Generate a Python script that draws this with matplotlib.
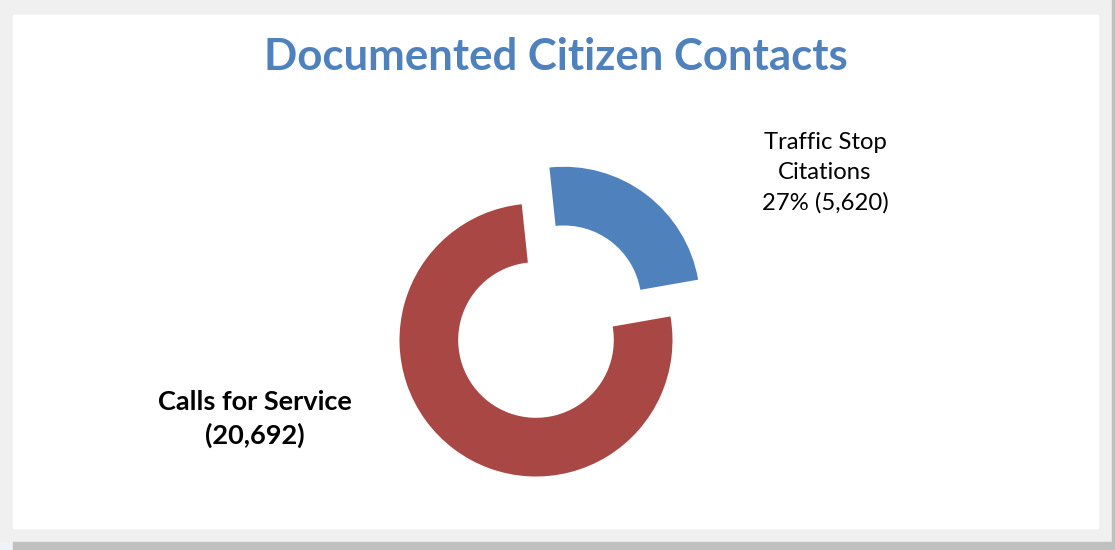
import matplotlib.pyplot as plt
from matplotlib.patches import Rectangle

# data
categories = ['Traffic Stop\nCitations', 'Calls for Service']
counts = [5620, 20692]
# share of the ring each arc covers (percent)
ring_share = [23.9, 76.1]
label_pct = ['27%', None]
colors = ['#4f81bd', '#a94745']

W, H = 1115, 550
fig = plt.figure(figsize=(W / 100, H / 100), dpi=100)
fig.patch.set_facecolor('#f0f0f0')

# panel frame with shadow
fig.patches.append(Rectangle((0, 0), 13 / W, 8 / H, transform=fig.transFigure,
                             color='#eef3f8', zorder=0))
fig.patches.append(Rectangle((13 / W, 0), 1, 8 / H, transform=fig.transFigure,
                             color='#c0c0c0', zorder=0))
fig.patches.append(Rectangle((1112 / W, 0), 3 / W, 1, transform=fig.transFigure,
                             color='#c0c0c0', zorder=0))
fig.patches.append(Rectangle((13 / W, 22 / H), (1098 - 13) / W, (535 - 22) / H,
                             transform=fig.transFigure, color='white', zorder=1))

ax = fig.add_axes([0, 0, 1, 1])
ax.set_zorder(2)
ax.patch.set_alpha(0)

cx, cy, R = 536, 210, 136.5
wedges, _ = ax.pie(ring_share, colors=colors, startangle=96, counterclock=False,
                   explode=[0.337 * R, 0], radius=R, center=(cx, cy),
                   wedgeprops=dict(width=R * 0.43, linewidth=0))

ax.set_xlim(0, W)
ax.set_ylim(0, H)
ax.set_aspect('equal')
ax.axis('off')

ax.text(556, H - 57, 'Documented Citizen Contacts', ha='center', va='center',
        fontsize=31.5, fontweight='bold', color='#4f81bd', family='Lato')

txt0 = categories[0] + '\n' + label_pct[0] + ' ({:,})'.format(counts[0])
ax.text(825, H - 173, txt0, ha='center', va='center', fontsize=17.2,
        family='Lato', linespacing=1.52, color='black')

txt1 = categories[1] + '\n({:,})'.format(counts[1])
ax.text(255, H - 419, txt1, ha='center', va='center', fontsize=19.5,
        fontweight='bold', family='Lato', linespacing=1.39, color='black')

fig.savefig('out.png', dpi=100, facecolor=fig.get_facecolor())
